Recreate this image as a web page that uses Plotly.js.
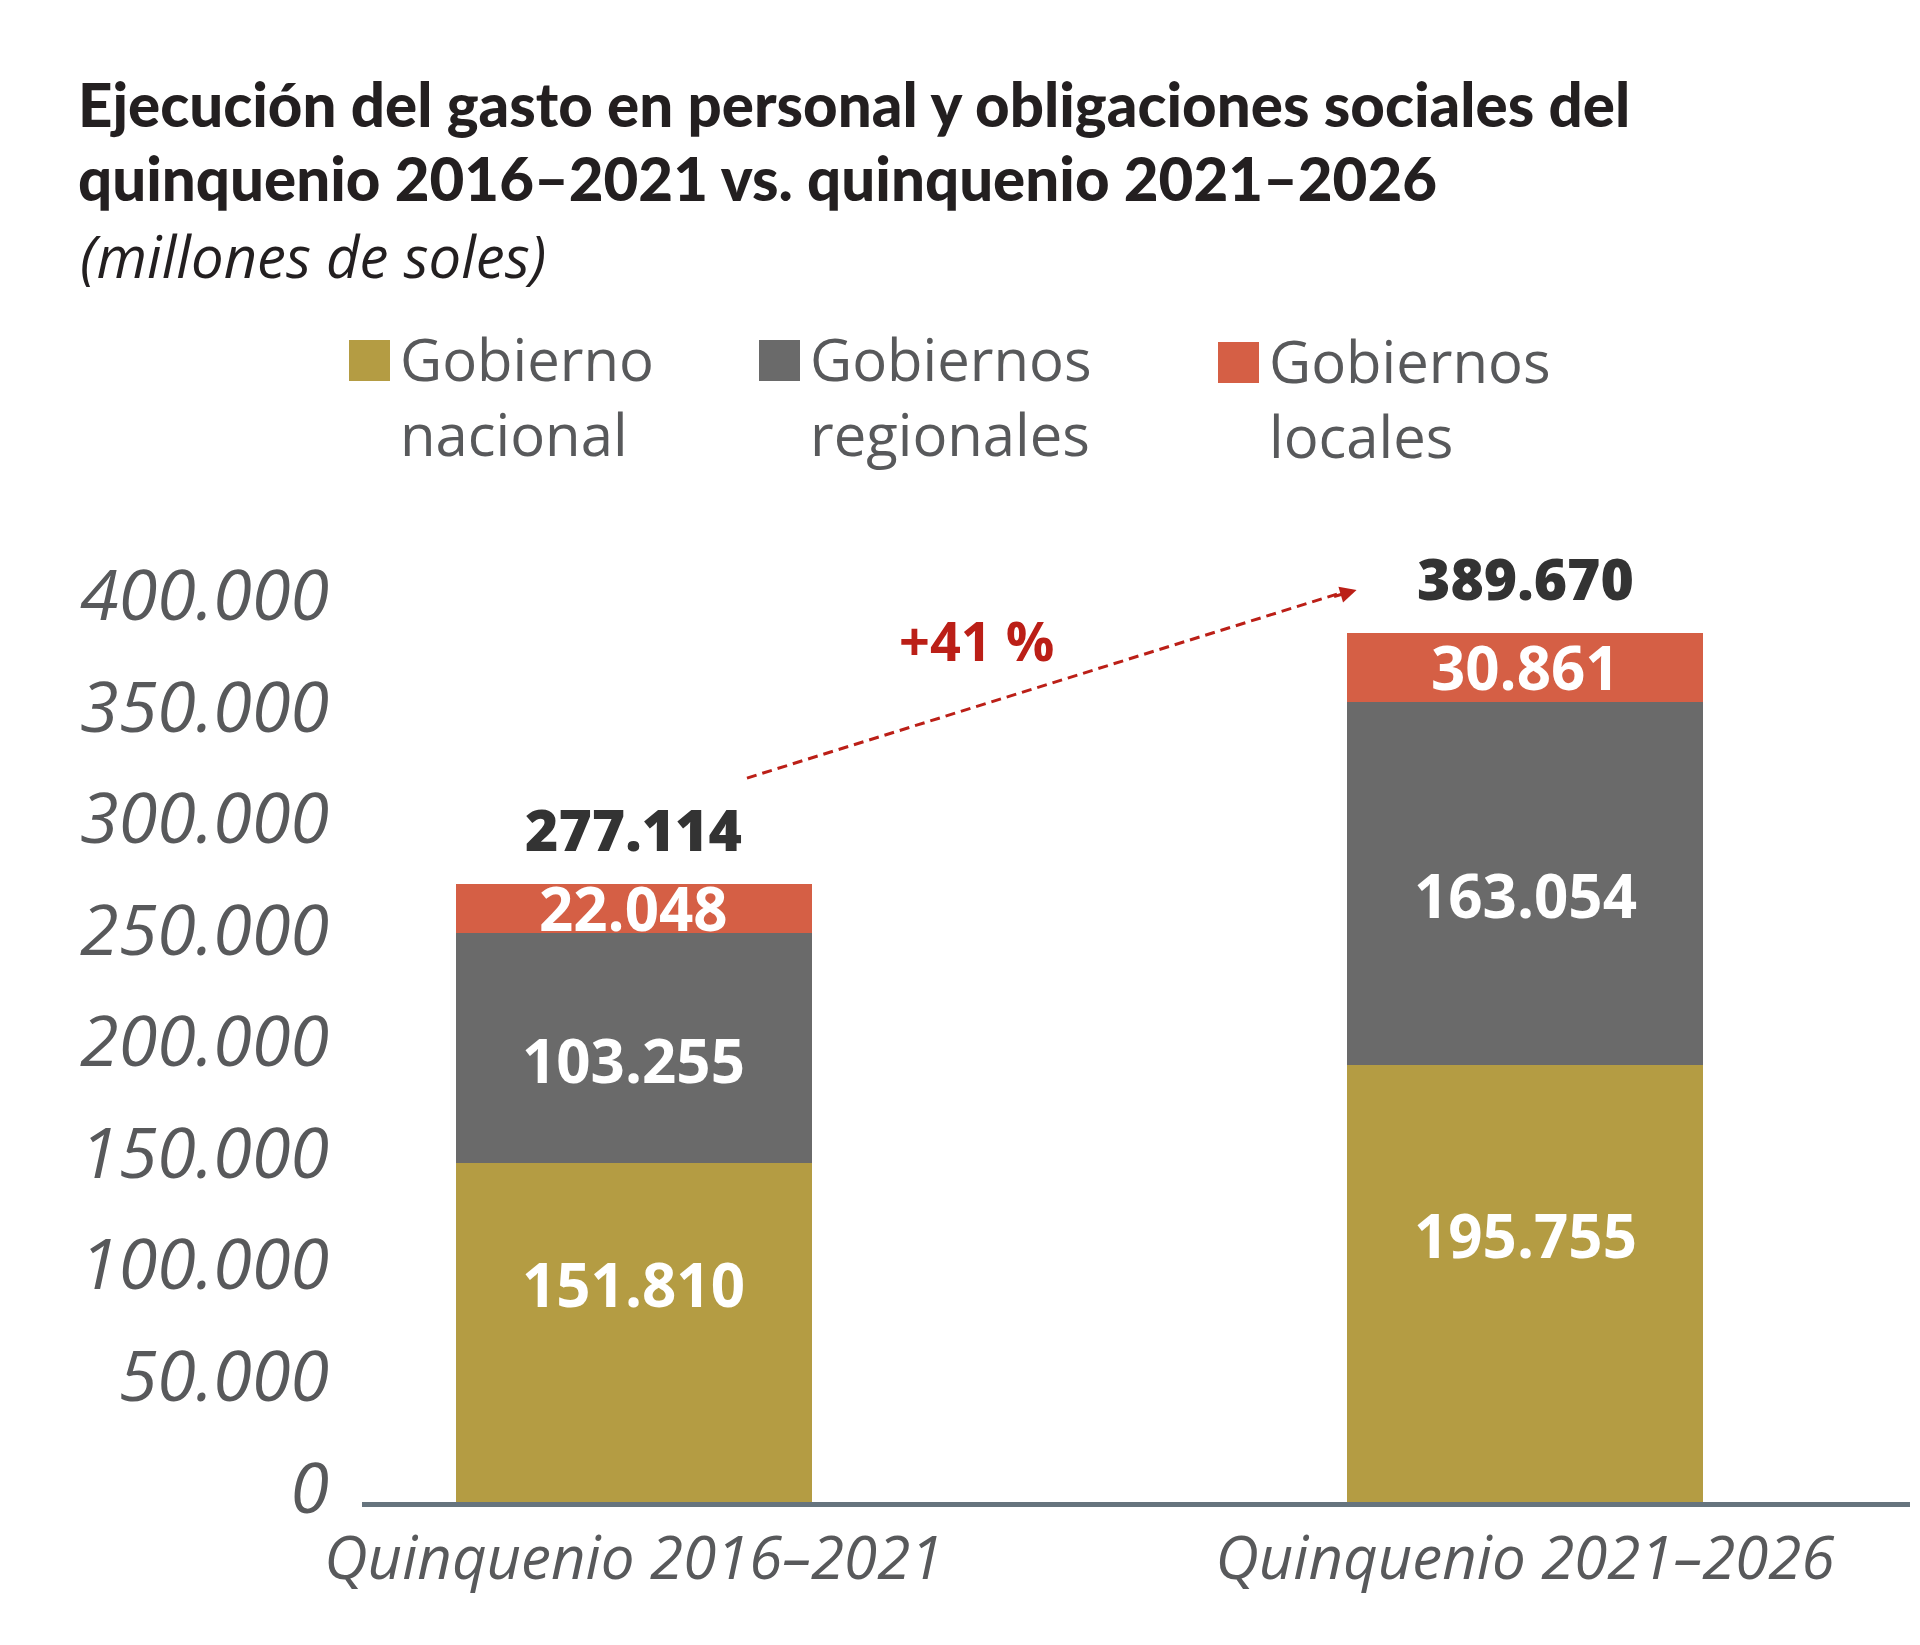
<!DOCTYPE html>
<html>
<head>
<meta charset="utf-8">
<script src="https://cdn.plot.ly/plotly-3.0.1.min.js"></script>
<style>
  body { margin: 0; background: #fff; }
  #chart { width: 1920px; height: 1645px; }
</style>
</head>
<body>
<div id="chart"></div>
<script>
"use strict";

// ----------------------------
// Data (millones de soles)
// ----------------------------
const PERIODS = ["Quinquenio 2016–2021", "Quinquenio 2021–2026"];
const SERIES_NAMES = ["Gobierno<br>nacional", "Gobiernos<br>regionales", "Gobiernos<br>locales"];
const NACIONAL = [151810, 195755];
const REGIONALES = [103255, 163054];
const LOCALES = [22048, 30861];
const TOTALS = [277114, 389670];
const Y_TICKS = [0, 50000, 100000, 150000, 200000, 250000, 300000, 350000, 400000];

const COLORS = ["#b49c43", "#6a6a6a", "#d55f45"];
const SERIES = [NACIONAL, REGIONALES, LOCALES];

const TITLE_LINES = [
  "Ejecución del gasto en personal y obligaciones sociales del",
  "quinquenio 2016–2021 vs. quinquenio 2021–2026",
];
const SUBTITLE = "(millones de soles)";

// ----------------------------
// Page geometry (pixels)
// ----------------------------
const W = 1920, H = 1645;
const M = { l: 362, r: 10, t: 565, b: 143 };
const PW = W - M.l - M.r, PH = H - M.t - M.b;

// pixel -> paper helpers for the free-standing texts
const px = (x) => (x - M.l) / PW;
const py = (y) => (H - M.b - y) / PH;

function fmt(v) {
  return String(v).replace(/\B(?=(\d{3})+(?!\d))/g, ".");
}

const GRAY_TXT = "#58595b";
const SANS = "Open Sans, Noto Sans, sans-serif";
const TITLE_FONT = "Lato, Open Sans, sans-serif";

// ----------------------------
// Bars
// ----------------------------
const data = SERIES.map((vals, s) => ({
  type: "bar",
  x: PERIODS,
  y: vals,
  name: SERIES_NAMES[s].replace("<br>", " "),
  width: 0.4,
  marker: { color: COLORS[s], line: { width: 0 } },
  hoverinfo: "skip",
}));

// segment labels, centered on each piece
const SEG_SHIFT = [49, -12, 0];
const annotations = [];
PERIODS.forEach((p, i) => {
  let base = 0;
  SERIES.forEach((vals, s) => {
    annotations.push({
      x: p, y: base + vals[i] / 2, xref: "x", yref: "y",
      text: fmt(vals[i]), showarrow: false, yshift: SEG_SHIFT[s],
      font: { family: SANS, size: 60, color: "#ffffff", weight: 700 },
    });
    base += vals[i];
  });
  // total above the bar
  annotations.push({
    x: p, y: TOTALS[i], xref: "x", yref: "y",
    text: fmt(TOTALS[i]), showarrow: false, yshift: 55,
    font: { family: SANS, size: 57, color: "#333333", weight: 800 },
  });
});

// growth between periods
const growth = Math.round((TOTALS[1] / TOTALS[0] - 1) * 100);
annotations.push({
  x: 0.384, y: 386400, xref: "x", yref: "y",
  text: `+${growth} %`, showarrow: false,
  font: { family: SANS, size: 54, color: "#bb1f17", weight: 700 },
});
// arrow head (the dashed body is a shape)
annotations.push({
  x: 0.811, y: 408800, xref: "x", yref: "y",
  text: "", showarrow: true, ax: -24, ay: 7,
  arrowhead: 2, arrowsize: 1.1, arrowwidth: 3, arrowcolor: "#bb1f17",
});

// title lines + subtitle (vertical middles in page pixels)
const TITLE_MID = [104, 178];
TITLE_LINES.forEach((t, k) => {
  annotations.push({
    x: px(76), y: py(TITLE_MID[k]), xref: "paper", yref: "paper",
    xanchor: "left", yanchor: "middle", showarrow: false,
    text: t,
    font: { family: TITLE_FONT, size: 60, color: "#231f20", weight: 900 },
  });
});
annotations.push({
  x: px(78), y: py(256), xref: "paper", yref: "paper",
  xanchor: "left", yanchor: "middle", showarrow: false,
  text: `<i>${SUBTITLE}</i>`,
  font: { family: SANS, size: 58, color: "#231f20" },
});

// legend (drawn by hand: big swatches, two-line labels)
const LEG_X = [349, 759, 1218];
const LEG_TOP = [340, 340, 342];
const shapes = [];
SERIES_NAMES.forEach((name, s) => {
  shapes.push({
    type: "rect", xref: "paper", yref: "paper",
    x0: px(LEG_X[s]), x1: px(LEG_X[s] + 41),
    y0: py(LEG_TOP[s]), y1: py(LEG_TOP[s] + 41),
    fillcolor: COLORS[s], line: { width: 0 },
  });
  annotations.push({
    x: px(LEG_X[s] + 49), y: py(LEG_TOP[s] - 23),
    xref: "paper", yref: "paper", xanchor: "left", yanchor: "top",
    align: "left", showarrow: false, text: name,
    font: { family: SANS, size: 58, color: GRAY_TXT },
  });
});

// dashed growth arrow body
shapes.push({
  type: "line", xref: "x", yref: "y",
  x0: 0.127, y0: 324500, x1: 0.80, y1: 408300,
  line: { color: "#bb1f17", width: 3, dash: "10px,6px" },
});

const layout = {
  width: W, height: H,
  margin: M,
  paper_bgcolor: "#ffffff",
  plot_bgcolor: "#ffffff",
  barmode: "stack",
  bargap: 0,
  showlegend: false,
  separators: ",.",
  xaxis: {
    type: "category",
    range: [-0.305, 1.432],
    showgrid: false, zeroline: false,
    showline: true, linecolor: "#66747e", linewidth: 5,
    ticks: "",
    ticklabelstandoff: 0,
    tickfont: { family: SANS, size: 60, color: GRAY_TXT, style: "italic" },
    fixedrange: true,
  },
  yaxis: {
    range: [0, 420000],
    tickvals: Y_TICKS,
    tickformat: ",d",
    showgrid: false, zeroline: false, showline: false,
    ticks: "",
    ticklabelstandoff: 32,
    ticklabelshift: -14,
    tickfont: { family: SANS, size: 70, color: GRAY_TXT, style: "italic" },
    fixedrange: true,
  },
  annotations,
  shapes,
};

Plotly.newPlot("chart", data, layout, { staticPlot: true, displayModeBar: false });
</script>
</body>
</html>
